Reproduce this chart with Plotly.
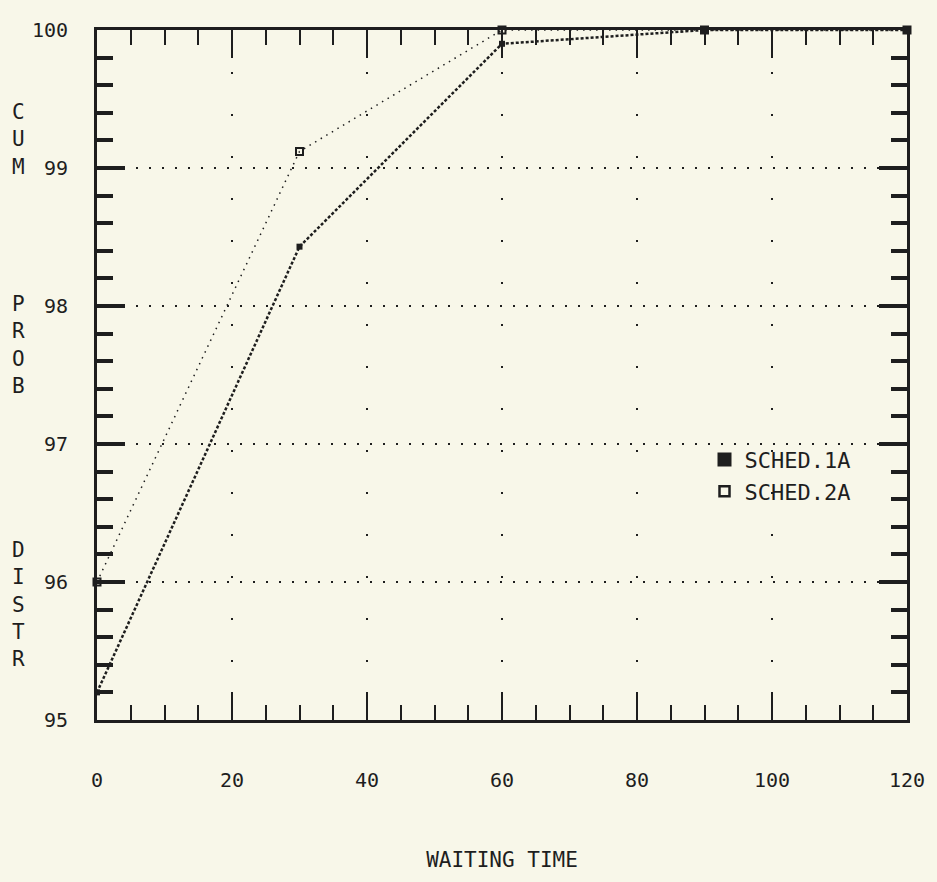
import plotly.graph_objects as go

waiting_time = [0, 30, 60, 90, 120]
sched_1a = [95.2, 98.43, 99.9, 100.0, 100.0]
sched_2a = [96.0, 99.12, 100.0, 100.0, 100.0]
x_ticks = [0, 20, 40, 60, 80, 100, 120]
y_ticks = [95, 96, 97, 98, 99, 100]
series_names = ["SCHED.1A", "SCHED.2A"]
y_title_words = ["CUM", "PROB", "DISTR"]

ink = "#1e1e1e"
paper = "#f8f7e9"
font_family = "DejaVu Sans Mono, Liberation Mono, monospace"

fig = go.Figure()
fig.add_trace(go.Scatter(
    x=waiting_time, y=sched_1a, name=series_names[0], mode="lines+markers",
    line=dict(color=ink, width=2.5, dash="3px,2px"),
    marker=dict(symbol="square", size=6, color=ink),
    cliponaxis=False, showlegend=False,
))
fig.add_trace(go.Scatter(
    x=waiting_time, y=sched_2a, name=series_names[1], mode="lines+markers",
    line=dict(color=ink, width=1.5, dash="1.5px,5px"),
    marker=dict(symbol="square-open", size=7, color=ink, line=dict(width=2, color=ink)),
    cliponaxis=False, showlegend=False,
))
# legend-only entries (markers only, as in the reference)
fig.add_trace(go.Scatter(
    x=[None], y=[None], name=series_names[0], mode="markers",
    marker=dict(symbol="square", size=14, color=ink),
))
fig.add_trace(go.Scatter(
    x=[None], y=[None], name=series_names[1], mode="markers",
    marker=dict(symbol="square-open", size=10, color=ink, line=dict(width=2.5, color=ink)),
))

word_y = [0.841, 0.543, 0.167]
annotations = []
for word, yy in zip(y_title_words, word_y):
    annotations.append(dict(
        text="<br>".join(list(word)), x=-0.097, y=yy, xref="paper", yref="paper",
        xanchor="center", yanchor="middle", showarrow=False,
        font=dict(size=21, family=font_family, color=ink),
    ))

fig.update_layout(
    width=937, height=882,
    paper_bgcolor=paper, plot_bgcolor=paper,
    margin=dict(l=97, r=25, t=30, b=162),
    font=dict(family=font_family, color=ink, size=20),
    showlegend=True,
    legend=dict(x=0.75, y=0.354, xanchor="left", yanchor="middle",
                bgcolor="rgba(0,0,0,0)", font=dict(size=22, family=font_family),
                itemwidth=30, tracegroupgap=0),
    annotations=annotations,
)

fig.update_xaxes(
    range=[0, 120], tickvals=x_ticks, ticktext=[str(v) for v in x_ticks],
    showline=True, linecolor=ink, linewidth=3, mirror="ticks",
    ticks="inside", ticklen=28, tickwidth=2, tickcolor=ink,
    minor=dict(dtick=5, ticks="inside", ticklen=15, tickwidth=2, tickcolor=ink, showgrid=False),
    showgrid=True, gridcolor=ink, gridwidth=2, griddash="2px,40px",
    ticklabelstandoff=40, zeroline=False,
    title=dict(text="WAITING TIME", standoff=62, font=dict(size=21)),
)
fig.update_yaxes(
    range=[95, 100], tickvals=y_ticks, ticktext=[str(v) for v in y_ticks],
    showline=True, linecolor=ink, linewidth=3, mirror="ticks",
    ticks="inside", ticklen=28, tickwidth=4, tickcolor=ink,
    minor=dict(dtick=0.2, ticks="inside", ticklen=16, tickwidth=4, tickcolor=ink, showgrid=False),
    showgrid=True, gridcolor=ink, gridwidth=2, griddash="2px,11px",
    ticklabelstandoff=22, zeroline=False,
)

fig.write_html(
    "out.html",
    config={"displayModeBar": False},
    post_script="document.body.style.margin='0';document.body.style.background='#f8f7e9';",
)
